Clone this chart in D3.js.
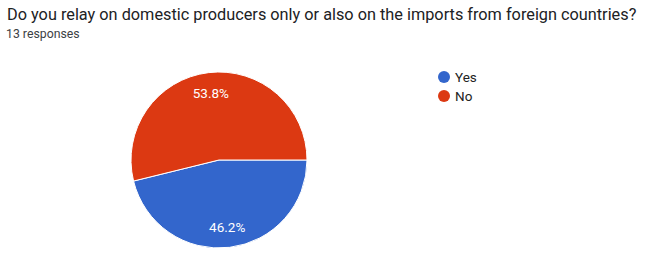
<!DOCTYPE html>
<html>
<head>
  <meta charset="utf-8">
  <title>Domestic producers or imports</title>
  <style>
    body { margin: 0; background: #fff; font-family: Roboto, Arial, sans-serif; }
    .title { font-size: 16.3px; fill: #202124; }
    .sub { font-size: 12.3px; fill: #3c4043; }
    .legend text { font-size: 13.5px; fill: #222; }
    .label { font-size: 13.5px; fill: #fff; }
  </style>
  <script src="https://cdn.jsdelivr.net/npm/d3@7"></script>
</head>
<body>
<script>
  // data
  var categories = ["Yes", "No"];
  var counts = [6, 7];
  var percents = ["46.2%", "53.8%"];
  var colors = ["#3366cc", "#dc3912"];

  var width = 648, height = 257;
  var cx = 219, cy = 160, radius = 88;

  var svg = d3.select("body").append("svg")
      .attr("width", width)
      .attr("height", height);

  svg.append("text").attr("class", "title")
      .attr("x", 7).attr("y", 20)
      .text("Do you relay on domestic producers only or also on the imports from foreign countries?");
  svg.append("text").attr("class", "sub")
      .attr("x", 6).attr("y", 38)
      .text("13 responses");

  var color = d3.scaleOrdinal().domain(categories).range(colors);

  var pie = d3.pie()
      .sort(null)
      .startAngle(Math.PI / 2)
      .endAngle(Math.PI / 2 + 2 * Math.PI)
      .value(function(d, i) { return counts[i]; });

  var arc = d3.arc().innerRadius(0).outerRadius(radius);
  var labelArc = d3.arc().innerRadius(radius * 0.77).outerRadius(radius * 0.77);

  var g = svg.append("g")
      .attr("transform", "translate(" + cx + "," + cy + ")");

  var arcs = pie(categories);

  g.selectAll("path")
      .data(arcs)
    .enter().append("path")
      .attr("d", arc)
      .attr("fill", function(d) { return color(d.data); })
      .attr("stroke", "#fff")
      .attr("stroke-width", 1);

  g.selectAll(".label")
      .data(arcs)
    .enter().append("text")
      .attr("class", "label")
      .attr("transform", function(d) { return "translate(" + labelArc.centroid(d) + ")"; })
      .attr("text-anchor", "middle")
      .attr("dominant-baseline", "central")
      .text(function(d, i) { return percents[i]; });

  // legend
  var legend = svg.append("g").attr("class", "legend")
      .attr("transform", "translate(444,77)");

  var item = legend.selectAll("g")
      .data(categories)
    .enter().append("g")
      .attr("transform", function(d, i) { return "translate(0," + (i * 19) + ")"; });

  item.append("circle")
      .attr("r", 6)
      .attr("fill", function(d) { return color(d); });
  item.append("text")
      .attr("x", 11)
      .attr("dominant-baseline", "central")
      .text(function(d) { return d; });
</script>
</body>
</html>
